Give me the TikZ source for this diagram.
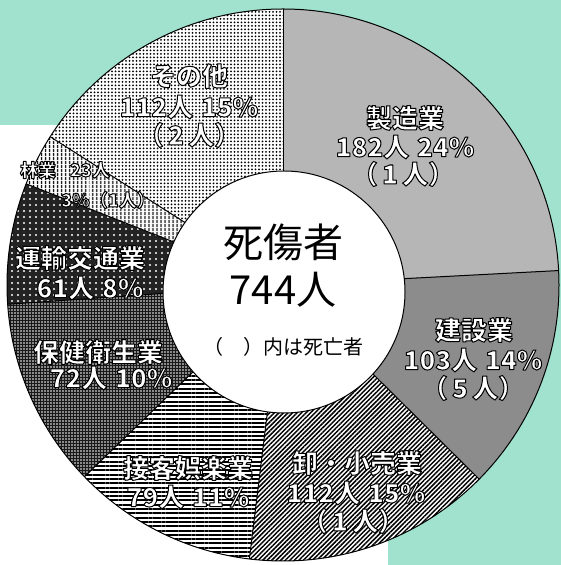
\documentclass[tikz,border=0pt]{standalone}
\usepackage{fontspec}
\setmainfont{Noto Sans CJK JP}
\usetikzlibrary{patterns.meta}
\definecolor{mint}{RGB}{160,226,206}
\definecolor{mfg}{RGB}{182,182,182}
\definecolor{con}{RGB}{140,140,140}
\definecolor{dk}{RGB}{35,35,35}
\newcommand\olt[1]{\special{pdf:literal direct 0 0 0 RG 1 w 1 j 2 Tr}#1\special{pdf:literal direct 0 Tr}}
\begin{document}
\begin{tikzpicture}[x=1pt,y=1pt,
  lbl/.style={text=white, font=\bfseries\fontsize{26}{28}\selectfont, inner sep=0pt},
  slab/.style={text=white, font=\bfseries\fontsize{18}{20}\selectfont, inner sep=0pt},
  ctr/.style={text=black, inner sep=0pt},
  edge/.style={draw=black, line width=1pt}]
\useasboundingbox (0,0) rectangle (561,565);
\fill[mint] (0,0) rectangle (561,565);
\fill[white] (0,0) rectangle (388,440);
\coordinate (O) at (283,280);
% slices
\fill[mfg] (O) -- ++(90:276) arc[start angle=90,end angle=3,radius=276] -- cycle;
\fill[con] (O) -- ++(3:276) arc[start angle=3,end angle=-44.7,radius=276] -- cycle;
\fill[white] (O) -- ++(-44.7:276) arc[start angle=-44.7,end angle=-97,radius=276] -- cycle;
\fill[pattern={Lines[angle=45,distance=3.2pt,line width=1.5pt]},pattern color=black] (O) -- ++(-44.7:276) arc[start angle=-44.7,end angle=-97,radius=276] -- cycle;
\fill[white] (O) -- ++(-97:276) arc[start angle=-97,end angle=-136,radius=276] -- cycle;
\fill[pattern={Lines[angle=0,distance=4.3pt,line width=2pt]},pattern color=black] (O) -- ++(-97:276) arc[start angle=-97,end angle=-136,radius=276] -- cycle;
\fill[black!90] (O) -- ++(-136:276) arc[start angle=-136,end angle=-176,radius=276] -- cycle;
\fill[pattern={Dots[radius=0.8pt,distance=3pt]},pattern color=white] (O) -- ++(-136:276) arc[start angle=-136,end angle=-176,radius=276] -- cycle;
\fill[dk] (O) -- ++(-176:276) arc[start angle=-176,end angle=-201.5,radius=276] -- cycle;
\fill[pattern={Dots[radius=1.1pt,distance=6pt]},pattern color=white] (O) -- ++(-176:276) arc[start angle=-176,end angle=-201.5,radius=276] -- cycle;
\fill[white] (O) -- ++(-201.5:276) arc[start angle=-201.5,end angle=-212.5,radius=276] -- cycle;
\fill[pattern={Lines[angle=90,distance=4pt,line width=1.6pt]},pattern color=black] (O) -- ++(-201.5:276) arc[start angle=-201.5,end angle=-212.5,radius=276] -- cycle;
\fill[white] (O) -- ++(-212.5:276) arc[start angle=-212.5,end angle=-270,radius=276] -- cycle;
\fill[pattern={Dots[radius=1pt,distance=3.5pt]},pattern color=black] (O) -- ++(-212.5:276) arc[start angle=-212.5,end angle=-270,radius=276] -- cycle;
% outlines
\foreach \a in {90,3,-44.7,-97,-136,-176,-201.5,-212.5}
  \draw[edge] (O) -- ++(\a:276);
\draw[edge] (O) circle[radius=276];
\node[circle, fill=white, draw=black, line width=1pt, minimum size=242pt, inner sep=0pt] (hub) at (284,273) {};
% labels
\node[lbl] (s1) at (189,489) {\olt{その他}};
\node[lbl] (s2) at (189,458) {\olt{112人\hspace{.3em}15\%}};
\node[lbl] (s3) at (189,430) {\olt{（\,2\,人）}};
\node[lbl] (m1) at (405,447) {\olt{製造業}};
\node[lbl] (m2) at (405,418) {\olt{182人\hspace{.3em}24\%}};
\node[lbl] (m3) at (403,391) {\olt{（\,1\,人）}};
\node[lbl] (k1) at (474,235) {\olt{建設業}};
\node[lbl] (k2) at (473,205) {\olt{103人\hspace{.3em}14\%}};
\node[lbl] (k3) at (473,177) {\olt{（\,5\,人）}};
\node[lbl] (w1) at (357,102) {\olt{卸・小売業}};
\node[lbl] (w2) at (356,72) {\olt{112人\hspace{.3em}15\%}};
\node[lbl] (w3) at (353,44) {\olt{（\,1\,人）}};
\node[lbl] (e1) at (188,97) {\olt{接客娯楽業}};
\node[lbl] (e2) at (188,68) {\olt{79人\hspace{.3em}11\%}};
\node[lbl] (h1) at (98,213) {\olt{保健衛生業}};
\node[lbl] (h2) at (111,187) {\olt{72人\hspace{.3em}10\%}};
\node[lbl] (t1) at (80,307) {\olt{運輸交通業}};
\node[lbl] (t2) at (90,277) {\olt{61人\hspace{.3em}8\%}};
\node[slab] (f1) at (38,395) {\olt{林業}};
\node[slab] (f2) at (90,395) {\olt{23人}};
\node[slab] (f3) at (108,365) {\olt{3\%（1人）}};
% center
\node[ctr, font=\fontsize{40}{44}\selectfont] (c1) at (283,323) {死傷者};
\node[ctr, font=\fontsize{40}{44}\selectfont] (c2) at (283,275) {744人};
\node[ctr, font=\fontsize{20}{22}\selectfont] (c3) at (283,218) {（　）内は死亡者};
\end{tikzpicture}
\end{document}
